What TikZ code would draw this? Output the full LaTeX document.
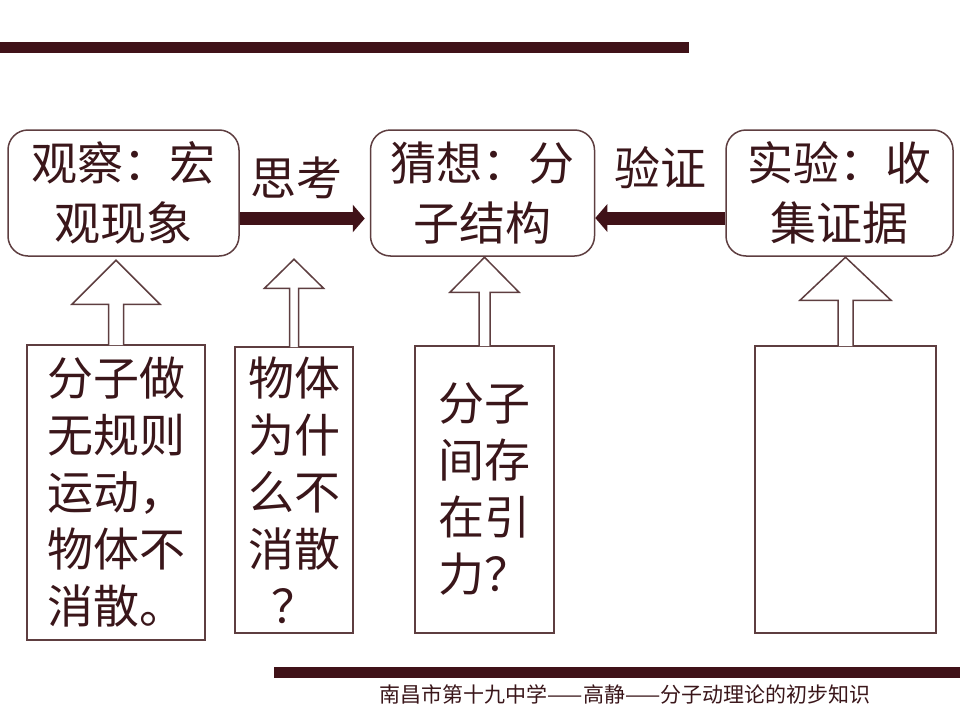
\documentclass[tikz,border=0pt]{standalone}
\usepackage{fontspec}
\setmainfont{Noto Sans CJK SC}
\usetikzlibrary{positioning,arrows.meta,calc}
\definecolor{barred}{RGB}{64,18,24}
\definecolor{inkred}{RGB}{58,22,26}
\definecolor{edgered}{RGB}{94,62,64}

\begin{document}
\begin{tikzpicture}[x=1pt, y=-1pt, node distance=130pt, text=inkred,
  font=\fontsize{46}{60}\selectfont,
  topbox/.style={draw=edgered, line width=1.5pt, rounded corners=20pt, minimum width=#1, minimum height=126pt, inner sep=0pt, align=center},
  qbox/.style={draw=edgered, line width=1.5pt, inner sep=0pt, align=center, font=\fontsize{46}{57}\selectfont},
  bigarr/.style={-{Triangle[width=27pt,length=12pt]}, line width=13pt, draw=barred},
  hollow/.style={draw=edgered, line width=1.5pt, line join=miter, fill=white}]
\useasboundingbox (0,0) rectangle (960,720);
% bars
\fill[barred] (0,42) rectangle (689,53);
\fill[barred] (274,667) rectangle (960,678);
% top row
\node[topbox=231pt] (obs) at (123.5,193) {观察：宏\\观现象};
\node[topbox=224pt, right=of obs] (guess) {猜想：分\\子结构};
\node[topbox=227pt, right=of guess] (test) {实验：收\\集证据};
\draw[bigarr] ([yshift=-25.5pt]obs.east) -- ([yshift=-25.5pt,xshift=-5pt]guess.west) node[midway, xshift=-6pt, yshift=41pt]{思考};
\draw[bigarr] ([yshift=-25pt]test.west) -- ([yshift=-25pt]guess.east) node[midway, yshift=50pt]{验证};
% questions
\node[qbox, minimum width=178pt, minimum height=295pt] (q1) at (116,492.5) {分子做\\无规则\\运动，\\物体不\\消散。};
\node[qbox, minimum width=118pt, minimum height=286pt] (q2) at (294,490) {物体\\为什\\么不\\消散\\？};
\node[qbox, minimum width=139pt, minimum height=287pt] (q3) at (484.5,489.5) {分子\\间存\\在引\\力？};
\node[qbox, minimum width=181pt, minimum height=287pt] (q4) at (845.5,489.5) {};
\foreach \q/\hw/\sw/\hl/\len in {q1/44/7.5/44/84, q2/29.5/4.5/29/87, q3/34.5/5.5/35/88, q4/45.5/7.5/43/88}
  \draw[hollow] ($(\q.north)+(-\sw,0.8)$) -- ($(\q.north)+(-\sw,\hl-\len)$) -- ($(\q.north)+(-\hw,\hl-\len)$)
    -- ($(\q.north)+(0,-\len)$) -- ($(\q.north)+(\hw,\hl-\len)$) -- ($(\q.north)+(\sw,\hl-\len)$) -- ($(\q.north)+(\sw,0.8)$);
% footer
\node[font=\fontsize{21}{24}\selectfont] (foot) at (625,694) {南昌市第十九中学——高静——分子动理论的初步知识};
\end{tikzpicture}
\end{document}
